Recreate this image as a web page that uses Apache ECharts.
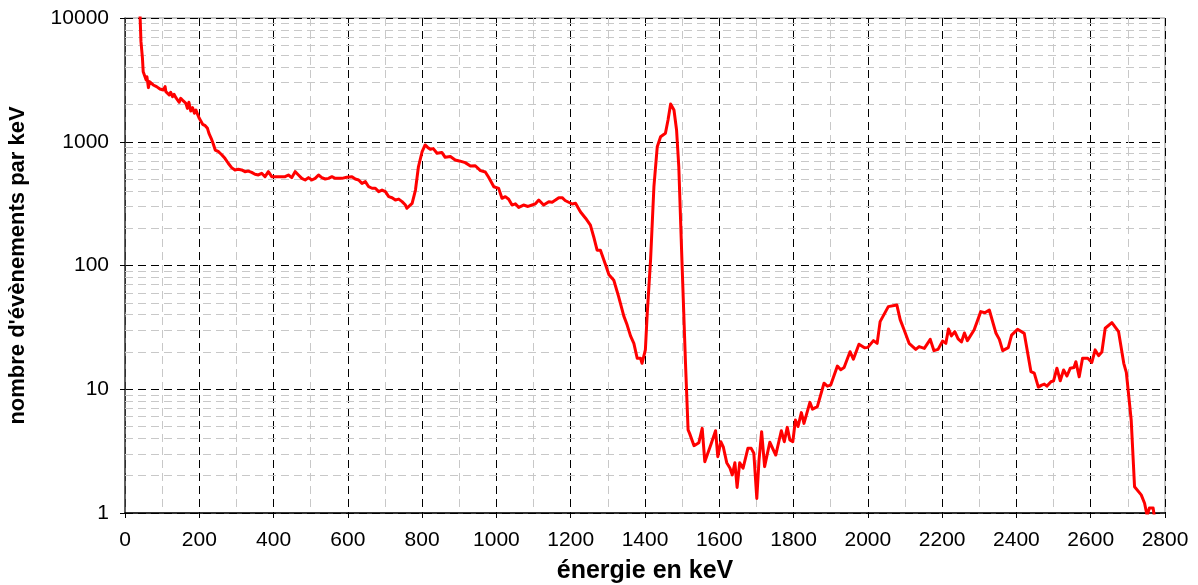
<!DOCTYPE html>
<html>
<head>
<meta charset="utf-8">
<script src="https://cdn.jsdelivr.net/npm/echarts@6/dist/echarts.min.js"></script>
<style>
  html, body { margin: 0; padding: 0; background: #fff; }
  #chart { width: 1198px; height: 585px; }
</style>
</head>
<body>
<div id="chart"></div>
<script>
// Spectre gamma : nombre d'évènements par keV en fonction de l'énergie
const energie = [
  39, 43, 47, 49, 54, 57, 59, 63, 66, 70, 76, 85, 94, 103, 108, 110, 115, 119, 123, 128,
  132, 137, 142, 146, 150, 157, 164, 168, 172, 177, 182, 187, 191, 196, 200, 205, 209, 216, 222, 226,
  232, 237, 243, 252, 261, 269, 278, 283, 287, 296, 305, 314, 323, 332, 341, 350, 359, 368, 377, 386,
  395, 413, 431, 440, 449, 458, 467, 476, 485, 494, 503, 512, 521, 530, 539, 548, 557, 566, 584, 597,
  611, 620, 629, 638, 647, 656, 665, 674, 683, 692, 701, 710, 719, 728, 737, 746, 755,
  759, 773, 782, 790, 800, 808, 815, 822, 830, 840, 853, 862, 876, 889, 900, 916, 930, 943, 957,
  970, 979, 993, 1006, 1015, 1024, 1033, 1042, 1051, 1060, 1073, 1085, 1096, 1105, 1114, 1127, 1141, 1150, 1159, 1168,
  1177, 1185, 1190, 1204, 1213, 1226, 1240, 1253, 1262, 1271, 1280, 1294, 1303, 1316, 1329, 1343, 1352, 1361, 1370, 1379,
  1388, 1392, 1401, 1406, 1415, 1424, 1433, 1442, 1455, 1462, 1469, 1478, 1485, 1491, 1500, 1509, 1516, 1520, 1532, 1545,
  1554, 1561, 1577, 1590, 1596, 1604, 1611, 1620, 1629, 1635, 1642, 1648, 1655, 1664, 1677, 1686, 1693, 1701, 1707, 1714,
  1722, 1736, 1752, 1767, 1775, 1783, 1790, 1798, 1805, 1812, 1821, 1828, 1844, 1851, 1864, 1882, 1891, 1900, 1918, 1927,
  1936, 1952, 1961, 1976, 1991, 2000, 2015, 2025, 2033, 2055, 2078, 2087, 2098, 2111, 2129, 2138, 2152, 2168, 2178, 2189,
  2201, 2210, 2217, 2225, 2234, 2243, 2252, 2260, 2268, 2286, 2304, 2315, 2327, 2345, 2354, 2363, 2378, 2387, 2403, 2421,
  2439, 2448, 2459, 2468, 2475, 2482, 2493, 2500, 2509, 2518, 2527, 2536, 2545, 2555, 2560, 2569, 2578, 2592, 2603, 2612,
  2621, 2630, 2639, 2657, 2675, 2689, 2696, 2709, 2718, 2736, 2745, 2752, 2756, 2758, 2768, 2771
];
const evenements = [
  14000, 6440, 4720, 3680, 3570, 3155, 3357, 2737, 3060, 2967, 2876, 2788, 2669, 2620, 2788, 2540, 2570, 2388, 2509, 2313,
  2416, 2271, 2357, 2084, 2244, 2136, 2044, 1862, 2084, 1774, 1885, 1700, 1804, 1646, 1546, 1595, 1383, 1349, 1284, 1169,
  1066, 971, 857, 831, 782, 735, 670, 690, 618, 592, 599, 592, 573, 580, 566, 546, 539, 556, 522, 573,
  522, 522, 522, 539, 513, 573, 539, 506, 491, 513, 491, 506, 539, 513, 500, 506, 522, 506, 506, 516,
  522, 500, 491, 461, 476, 433, 421, 421, 395, 407, 395, 360, 353, 338, 344, 328, 308,
  290, 318, 407, 628, 831, 942, 900, 869, 880, 807, 820, 748, 760, 713, 700, 678, 637, 640, 584,
  570, 516, 433, 420, 349, 360, 343, 308, 315, 295, 308, 300, 308, 315, 338, 308, 328, 325, 338, 353,
  353, 335, 332, 314, 318, 272, 241, 212, 170, 133, 133, 101, 84, 76, 56, 39, 33, 27, 23.5, 17.8,
  17.8, 16.2, 20.8, 41, 111, 433, 912, 1098, 1170, 1500, 2018, 1806, 1245, 628, 98, 16.3, 4.69, 4.4, 3.5, 3.7,
  4.83, 2.6, 3.54, 4.62, 2.85, 3.77, 3.4, 2.55, 2.3, 2.03, 2.55, 1.61, 2.55, 2.3, 3.33, 3.33, 3.04, 1.31, 2.68, 4.54,
  2.37, 3.73, 2.94, 4.62, 3.77, 4.92, 3.9, 3.77, 5.64, 5.0, 6.47, 5.3, 7.84, 6.9, 7.23, 11.2, 10.6, 10.8, 15.4, 14.4,
  15.0, 20.1, 17.5, 23.1, 21.6, 21.8, 24.7, 23.5, 35.2, 46.5, 48, 36.5, 30, 23.5, 21.0, 22.1, 21.4, 25.3, 20.5, 21.0,
  24.5, 23.5, 30.7, 27, 29.2, 25.5, 24.1, 28.5, 24.7, 30.1, 42.4, 41.5, 43.7, 28.3, 25.3, 20.5, 21.7, 27.4, 30.5, 28.3,
  13.9, 13.5, 10.4, 10.8, 11.0, 10.6, 11.5, 11.7, 14.8, 11.7, 14.3, 12.8, 14.8, 15.0, 16.7, 12.6, 17.8, 17.8, 16.5, 20.8,
  18.7, 20, 31.1, 34.5, 29.2, 16.2, 13.6, 5.64, 1.63, 1.40, 1.20, 0.95, 0.95, 1.1, 1.1, 0.95
];

// axis settings
const xMin = 0, xMax = 2800, xStep = 200;
const yDecades = [1, 10, 100, 1000, 10000];
const xTitle = 'énergie en keV';
const yTitle = "nombre d'évènements par keV";

// minor horizontal grid: 2..9 within each decade
const yMinor = [];
for (let d = 0; d < yDecades.length - 1; d++) {
  for (let k = 2; k <= 9; k++) yMinor.push(yDecades[d] * k);
}

const points = energie.map((e, i) => [e, evenements[i]]);

const font = '"Liberation Sans", Arial, sans-serif';
const dash = [8, 5];
const plain = v => String(Math.round(v));

const chart = echarts.init(document.getElementById('chart'), null, { renderer: 'canvas' });
chart.setOption({
  animation: false,
  backgroundColor: '#ffffff',
  grid: {
    left: 125, right: 33, top: 18, bottom: 72,
    containLabel: false,
    outerBoundsMode: 'none',
    show: true, borderColor: '#8c8c8c', borderWidth: 1, backgroundColor: 'transparent'
  },
  xAxis: {
    type: 'value',
    min: xMin, max: xMax, interval: xStep,
    name: xTitle,
    nameLocation: 'middle',
    nameGap: 46,
    nameTextStyle: { fontFamily: font, fontWeight: 'bold', fontSize: 25, color: '#000' },
    axisLine: { show: true, onZero: false, lineStyle: { color: '#000', width: 1.5 } },
    axisTick: { show: true, inside: false, length: 5, lineStyle: { color: '#000' } },
    axisLabel: { fontFamily: font, fontSize: 21, color: '#000', margin: 17, formatter: plain },
    splitLine: { show: true, lineStyle: { color: '#000', type: dash, width: 1 } },
    minorTick: { show: false, splitNumber: 2 },
    minorSplitLine: { show: true, lineStyle: { color: '#c8c8c8', type: dash, width: 1 } }
  },
  yAxis: {
    type: 'log',
    logBase: 10,
    min: yDecades[0], max: yDecades[yDecades.length - 1],
    name: yTitle,
    nameLocation: 'middle',
    nameRotate: 90,
    nameGap: 96,
    nameTextStyle: { fontFamily: font, fontWeight: 'bold', fontSize: 22, color: '#000' },
    axisLine: { show: true, lineStyle: { color: '#404040', width: 1.5 } },
    axisTick: { show: true, inside: false, length: 5, lineStyle: { color: '#000' } },
    axisLabel: { fontFamily: font, fontSize: 21, color: '#000', margin: 16, formatter: plain },
    splitLine: { show: true, lineStyle: { color: '#000', type: dash, width: 1 } }
  },
  series: [
    {
      // light dashed lines at the intermediate log values
      type: 'line',
      data: [],
      silent: true,
      z: 1,
      markLine: {
        silent: true,
        symbol: ['none', 'none'],
        label: { show: false },
        lineStyle: { color: '#c8c8c8', type: dash, width: 1 },
        data: yMinor.map(v => ({ yAxis: v }))
      }
    },
    {
      type: 'line',
      data: points,
      z: 10,
      clip: true,
      showSymbol: false,
      symbol: 'none',
      smooth: false,
      lineStyle: { color: '#ff0000', width: 3, join: 'round' }
    }
  ]
});
</script>
</body>
</html>
